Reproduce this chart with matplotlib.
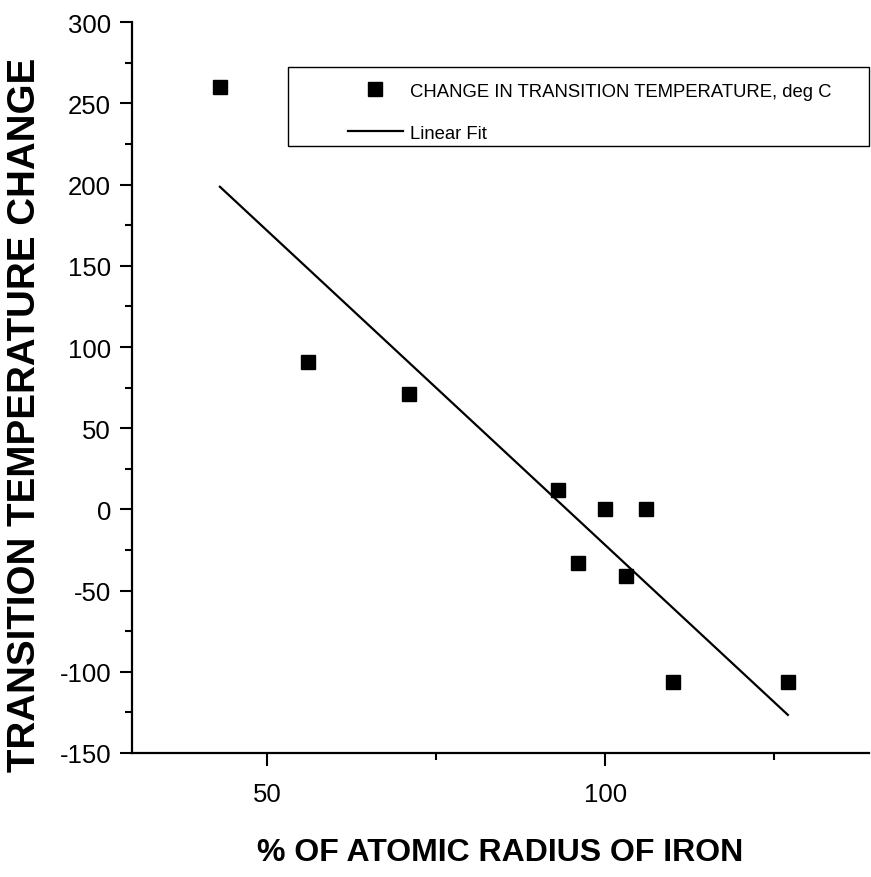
import matplotlib
matplotlib.use("Agg")
import matplotlib.pyplot as plt
import numpy as np
from matplotlib.patches import Rectangle
from matplotlib.ticker import MultipleLocator

plt.rcParams["axes.unicode_minus"] = False

# Data
radius_pct = [43, 56, 71, 93, 96, 100, 103, 106, 110, 127]
temp_change = [260, 91, 71, 12, -33, 0, -41, 0, -106, -106]
x_ticks = [50, 100]
y_ticks = [-150, -100, -50, 0, 50, 100, 150, 200, 250, 300]

REG = ["Liberation Sans", "DejaVu Sans"]

fig = plt.figure(figsize=(8.71, 8.78), dpi=100)
ax = fig.add_axes([132/871, 1-754/878, (869-132)/871, (754-23.3)/878])

ax.plot(radius_pct, temp_change, linestyle="none", marker="s", ms=10,
        color="black", label="CHANGE IN TRANSITION TEMPERATURE, deg C")

coef = np.polyfit(radius_pct, temp_change, 1)
xf = np.array([min(radius_pct), max(radius_pct)])
ax.plot(xf, np.polyval(coef, xf), color="black", lw=1.6, label="Linear Fit")

ax.set_xlim(30, 139)
ax.set_ylim(-150, 300)
ax.set_xticks(x_ticks)
ax.set_yticks(y_ticks)
ax.xaxis.set_minor_locator(MultipleLocator(25))
ax.yaxis.set_minor_locator(MultipleLocator(25))

for s in ["top", "right"]:
    ax.spines[s].set_visible(False)
for s in ["left", "bottom"]:
    ax.spines[s].set_linewidth(1.6)

ax.tick_params(which="major", direction="out", length=9, width=1.5)
ax.tick_params(axis="x", which="major", pad=12)
ax.tick_params(axis="y", which="major", pad=6)
ax.tick_params(which="minor", direction="out", length=5, width=1.5)
for lab in ax.get_xticklabels() + ax.get_yticklabels():
    lab.set_family(REG)
    lab.set_fontsize(18.5)

ax.set_xlabel("% OF ATOMIC RADIUS OF IRON", family=REG, fontweight="bold",
              fontsize=23)
ax.xaxis.set_label_coords(0.5, -0.115)
ax.set_ylabel("TRANSITION TEMPERATURE CHANGE", family=REG, fontweight="bold",
              fontsize=27.7)
ax.yaxis.set_label_coords(-(132-43)/737, (754-415)/730.7)

# legend frame
fig.patches.append(Rectangle((288/871, 1-147/878), (869-288)/871, (147-68)/878,
                             transform=fig.transFigure, fill=False,
                             edgecolor="black", lw=1.0))
leg = ax.legend(loc="upper left", bbox_to_anchor=(344/871, 1-80/878),
                bbox_transform=fig.transFigure, frameon=False,
                prop={"family": REG, "size": 13.3}, handlelength=3.0,
                handletextpad=0.35, labelspacing=1.35, borderpad=0.2,
                borderaxespad=0, markerscale=1.0)

fig.savefig("out.png", dpi=100)
